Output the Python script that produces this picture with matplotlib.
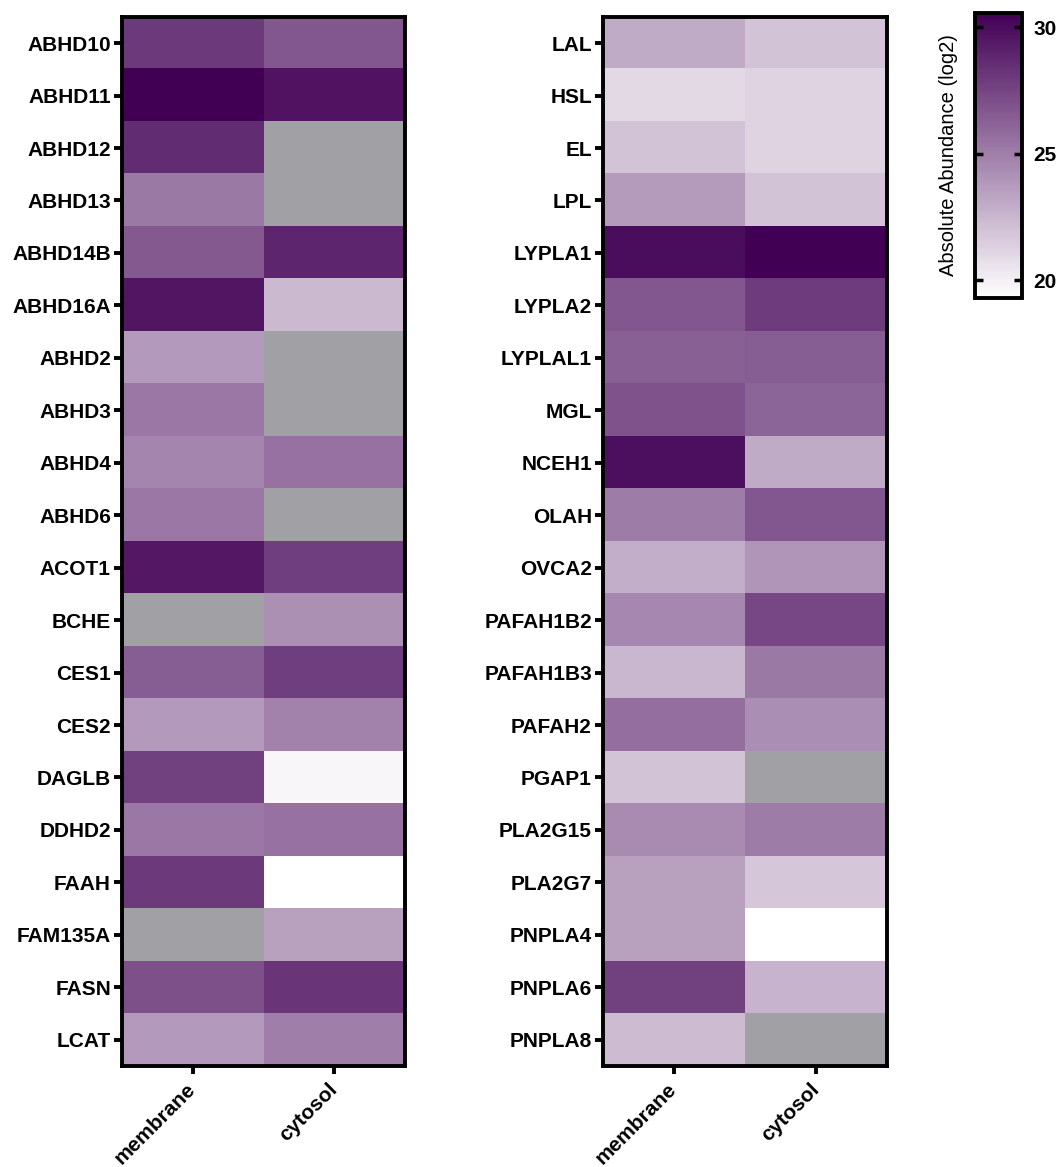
import matplotlib
matplotlib.use("Agg")
import matplotlib.pyplot as plt
import numpy as np
from matplotlib.colors import LinearSegmentedColormap

plt.rcParams['font.family'] = ['Liberation Sans', 'DejaVu Sans']

# log2 absolute abundance, nan = not detected (grey)
fractions = ['membrane', 'cytosol']

genes_left = ['ABHD10', 'ABHD11', 'ABHD12', 'ABHD13', 'ABHD14B', 'ABHD16A', 'ABHD2',
              'ABHD3', 'ABHD4', 'ABHD6', 'ACOT1', 'BCHE', 'CES1', 'CES2', 'DAGLB',
              'DDHD2', 'FAAH', 'FAM135A', 'FASN', 'LCAT']
membrane_left = [28.0, 30.5, 28.6, 25.2, 26.6, 29.6, 23.8, 25.3, 24.7, 25.3,
                 29.5, np.nan, 26.4, 23.8, 27.7, 25.3, 28.0, np.nan, 27.0, 23.8]
cytosol_left = [26.7, 29.7, np.nan, np.nan, 28.9, 22.4, np.nan, np.nan, 25.5, np.nan,
                27.8, 24.2, 27.8, 24.8, 19.7, 25.5, 19.2, 23.5, 28.2, 25.0]

genes_right = ['LAL', 'HSL', 'EL', 'LPL', 'LYPLA1', 'LYPLA2', 'LYPLAL1', 'MGL', 'NCEH1',
               'OLAH', 'OVCA2', 'PAFAH1B2', 'PAFAH1B3', 'PAFAH2', 'PGAP1', 'PLA2G15',
               'PLA2G7', 'PNPLA4', 'PNPLA6', 'PNPLA8']
membrane_right = [23.0, 21.0, 21.9, 23.7, 30.0, 26.7, 26.3, 26.9, 29.9, 25.1,
                  22.9, 24.6, 22.5, 25.7, 21.9, 24.4, 23.5, 23.5, 27.7, 22.3]
cytosol_right = [21.9, 21.2, 21.2, 21.9, 30.5, 27.9, 26.4, 26.1, 23.0, 26.7,
                 24.0, 27.4, 25.2, 24.3, np.nan, 25.1, 21.8, 19.2, 22.6, np.nan]

vmin, vmax = 19.3, 30.55

cmap = LinearSegmentedColormap.from_list('purp', ['#ffffff', '#420055'])
cmap.set_bad('#a1a0a4')

fig = plt.figure(figsize=(10.62, 11.67), dpi=100)
ax1 = fig.add_axes([0.1149, 0.0866, 0.2665, 0.8989])
ax2 = fig.add_axes([0.5678, 0.0866, 0.2674, 0.8989])
cax = fig.add_axes([0.918, 0.7446, 0.0443, 0.2442])

panels = [(ax1, genes_left, membrane_left, cytosol_left),
          (ax2, genes_right, membrane_right, cytosol_right)]

for ax, genes, mem, cyt in panels:
    data = np.ma.masked_invalid(np.column_stack([mem, cyt]))
    im = ax.imshow(data, cmap=cmap, vmin=vmin, vmax=vmax, aspect='auto',
                   interpolation='nearest')
    ax.set_yticks(range(len(genes)))
    ax.set_yticklabels(genes, fontsize=15, fontweight='bold')
    ax.set_xticks(range(len(fractions)))
    ax.set_xticklabels(fractions, fontsize=15, fontweight='bold', rotation=45,
                       ha='right', va='center', rotation_mode='anchor')
    ax.tick_params(axis='both', length=6, width=2.8, pad=2)
    ax.tick_params(axis='x', pad=9)
    for s in ax.spines.values():
        s.set_linewidth(2.8)

cb = fig.colorbar(im, cax=cax)
cb.set_ticks([20, 25, 30])
cb.ax.tick_params(length=6, width=2.5, direction='in', left=True, right=True,
                  labelsize=15, pad=8)
for lab in cb.ax.get_yticklabels():
    lab.set_fontweight('bold')
cb.outline.set_linewidth(2.8)
cb.ax.yaxis.set_label_position('left')
cb.set_label('Absolute Abundance (log2)', fontsize=14.5, labelpad=12)

plt.savefig('out.png', dpi=100)
